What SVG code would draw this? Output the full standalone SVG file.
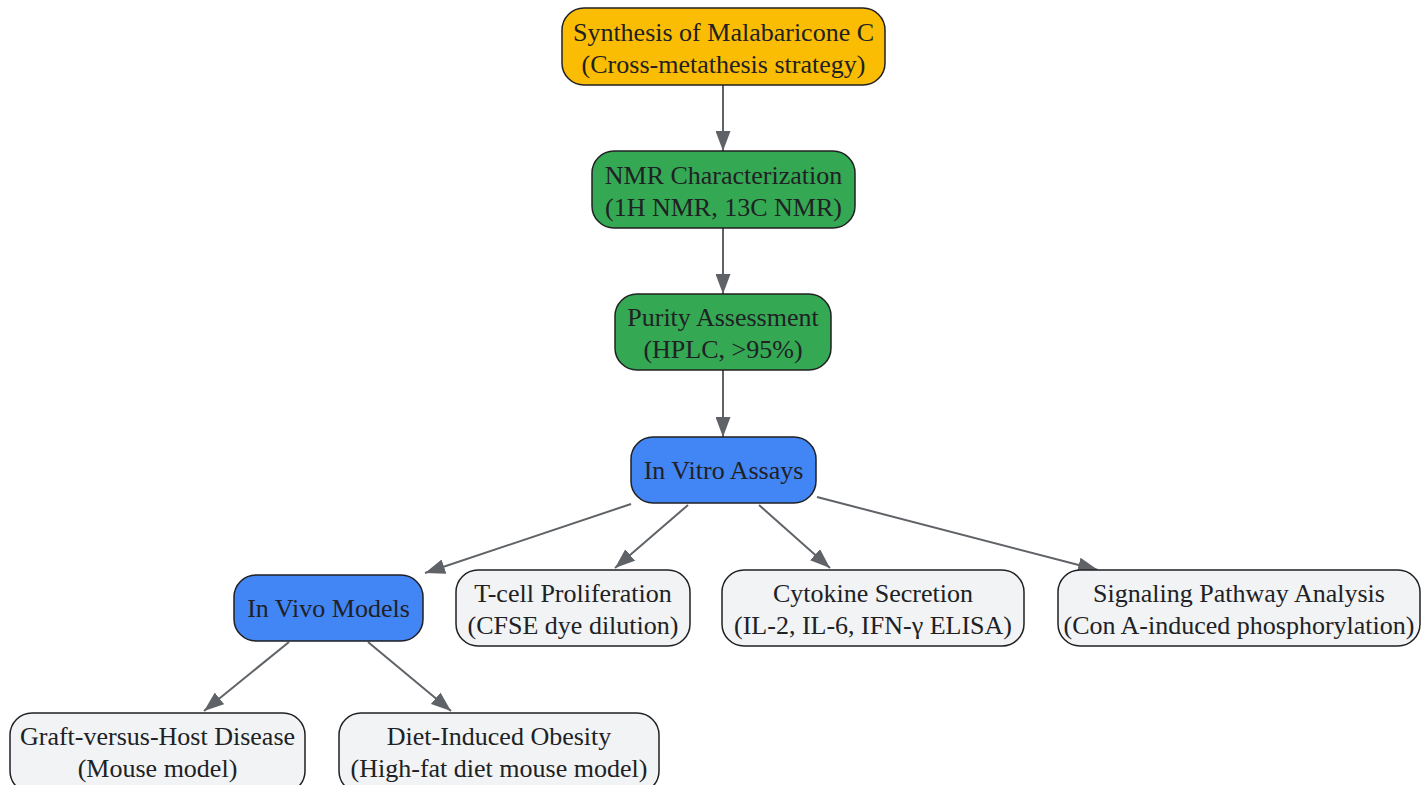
<svg xmlns="http://www.w3.org/2000/svg" width="1421" height="785" viewBox="0 0 1421 785">
<defs>
<style>
.node rect{stroke:#202124;stroke-width:1.5}
.y rect{fill:#FBBC04}
.g rect{fill:#34A853}
.b rect{fill:#4285F4}
.w rect{fill:#F1F3F4}
text{font-family:"Liberation Serif","Times New Roman",serif;font-size:26px;fill:#202124;text-anchor:middle;dominant-baseline:central}
.edges line{stroke:#5F6368;stroke-width:2;fill:none}
</style>
<marker id="arr" markerWidth="20" markerHeight="15" refX="20" refY="7.5" orient="auto" markerUnits="userSpaceOnUse">
<polygon points="0,0 20,7.5 0,15" fill="#5F6368"/>
</marker>
</defs>
<rect width="1421" height="785" fill="#FFFFFF"/>
<g class="edges">
<line x1="723" y1="85" x2="723" y2="151" marker-end="url(#arr)"/>
<line x1="723" y1="228" x2="723" y2="294" marker-end="url(#arr)"/>
<line x1="723" y1="370" x2="723" y2="437" marker-end="url(#arr)"/>
<line x1="631" y1="504" x2="425" y2="573" marker-end="url(#arr)"/>
<line x1="688" y1="505" x2="615" y2="568" marker-end="url(#arr)"/>
<line x1="759" y1="505" x2="830" y2="568" marker-end="url(#arr)"/>
<line x1="817" y1="497" x2="1098" y2="570" marker-end="url(#arr)"/>
<line x1="289" y1="642" x2="204" y2="711" marker-end="url(#arr)"/>
<line x1="368" y1="642" x2="451" y2="711" marker-end="url(#arr)"/>
</g>
<g id="synthesis" class="node y">
<rect x="562" y="8" width="323" height="77" rx="22"/>
<text x="723.5" y="32">Synthesis of Malabaricone C</text>
<text x="723.5" y="64">(Cross-metathesis strategy)</text>
</g>
<g id="nmr" class="node g">
<rect x="592" y="151" width="263" height="77" rx="22"/>
<text x="723.5" y="175">NMR Characterization</text>
<text x="723.5" y="207">(1H NMR, 13C NMR)</text>
</g>
<g id="purity" class="node g">
<rect x="615" y="294" width="216" height="76" rx="22"/>
<text x="723" y="317">Purity Assessment</text>
<text x="723" y="349">(HPLC, &gt;95%)</text>
</g>
<g id="invitro" class="node b">
<rect x="631" y="437" width="185" height="66" rx="22"/>
<text x="723.5" y="470">In Vitro Assays</text>
</g>
<g id="invivo" class="node b">
<rect x="234" y="575" width="189" height="66" rx="22"/>
<text x="328.5" y="608">In Vivo Models</text>
</g>
<g id="tcell" class="node w">
<rect x="456" y="570" width="234" height="76" rx="22"/>
<text x="573" y="593">T-cell Proliferation</text>
<text x="573" y="625">(CFSE dye dilution)</text>
</g>
<g id="cytokine" class="node w">
<rect x="722" y="570" width="302" height="76" rx="22"/>
<text x="873" y="593">Cytokine Secretion</text>
<text x="873" y="625">(IL-2, IL-6, IFN-γ ELISA)</text>
</g>
<g id="signaling" class="node w">
<rect x="1058" y="570" width="362" height="76" rx="22"/>
<text x="1239" y="593">Signaling Pathway Analysis</text>
<text x="1239" y="625">(Con A-induced phosphorylation)</text>
</g>
<g id="gvhd" class="node w">
<rect x="10" y="713" width="295" height="80" rx="22"/>
<text x="157.5" y="736">Graft-versus-Host Disease</text>
<text x="157.5" y="768">(Mouse model)</text>
</g>
<g id="dio" class="node w">
<rect x="339" y="713" width="320" height="80" rx="22"/>
<text x="499" y="736">Diet-Induced Obesity</text>
<text x="499" y="768">(High-fat diet mouse model)</text>
</g>
</svg>
